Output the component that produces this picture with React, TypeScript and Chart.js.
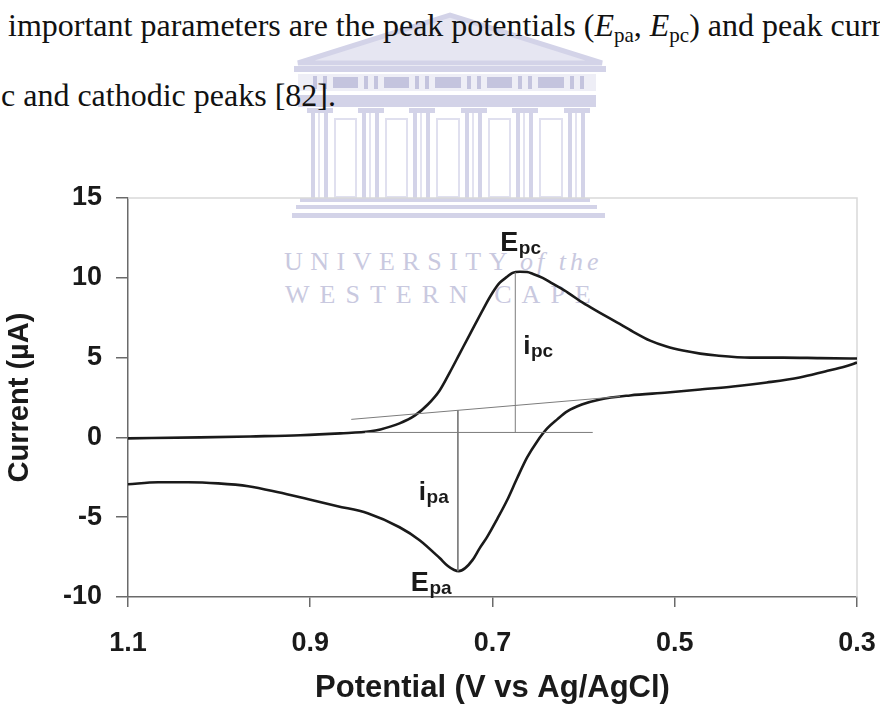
import React, { useEffect, useRef } from "react";
import { Chart, registerables } from "chart.js";

Chart.register(...registerables);

// Axis ticks
const X_TICKS = [1.1, 0.9, 0.7, 0.5, 0.3];
const Y_TICKS = [-10, -5, 0, 5, 10, 15];

// Upper branch of the voltammogram (potential in V, current in µA)
const upperPotential = [
  1.1, 1.021, 0.966, 0.911, 0.867, 0.834, 0.823, 0.802, 0.785, 0.771,
  0.758, 0.747, 0.736, 0.725, 0.71, 0.7, 0.692, 0.684, 0.678, 0.67,
  0.662, 0.656, 0.645, 0.634, 0.617, 0.601, 0.582, 0.563, 0.546, 0.527,
  0.509, 0.491, 0.472, 0.454, 0.417, 0.381, 0.341, 0.3,
];
const upperCurrent = [
  -0.06, 0.0, 0.06, 0.13, 0.25, 0.38, 0.5, 0.88, 1.38, 2.06,
  2.94, 4.06, 5.25, 6.44, 8.06, 9.06, 9.69, 10.06, 10.31, 10.38,
  10.36, 10.25, 10.0, 9.63, 9.06, 8.44, 7.81, 7.19, 6.63, 6.06,
  5.69, 5.44, 5.25, 5.13, 5.0, 5.0, 4.97, 4.94,
];

// Lower branch of the voltammogram
const lowerPotential = [
  1.1, 1.067, 1.034, 1.001, 0.968, 0.935, 0.902, 0.87, 0.837, 0.802,
  0.78, 0.758, 0.749, 0.742, 0.737, 0.73, 0.722, 0.714, 0.706, 0.695,
  0.684, 0.673, 0.662, 0.651, 0.64, 0.629, 0.618, 0.602, 0.582, 0.549,
  0.508, 0.472, 0.436, 0.399, 0.363, 0.335, 0.313, 0.3,
];
const lowerCurrent = [
  -2.94, -2.81, -2.81, -2.88, -3.06, -3.44, -3.88, -4.31, -4.75, -5.63,
  -6.44, -7.56, -8.06, -8.31, -8.38, -8.19, -7.69, -6.94, -6.25, -5.13,
  -3.94, -2.56, -1.25, -0.25, 0.56, 1.13, 1.63, 2.06, 2.38, 2.63,
  2.81, 3.0, 3.19, 3.44, 3.75, 4.13, 4.44, 4.69,
];

// Peak positions and the baselines used to read the peak currents
const E_PC = 0.675;
const I_PC_PEAK = 10.35;
const E_PA = 0.738;
const I_PA_PEAK = -8.38;
const pcBaselinePotential = [0.84, 0.59];
const pcBaselineCurrent = [0.31, 0.31];
const paBaselinePotential = [0.855, 0.56];
const paBaselineCurrent = [1.13, 2.56];
const I_PA_BASE = 1.7;
const I_PC_LABEL = 5.25;
const I_PA_LABEL = -3.94;

const SANS = '"Liberation Sans", Arial, Helvetica, sans-serif';
const SERIF = '"Liberation Serif", "Times New Roman", serif';
const INK = "#1a1a1a";
const AXIS = "#6a6a6a";

const toPoints = (xs: number[], ys: number[]) => xs.map((x, i) => ({ x, y: ys[i] }));

const framePlugin = {
  id: "frame",
  beforeDatasetsDraw(chart: any) {
    const { ctx, chartArea } = chart;
    ctx.save();
    ctx.strokeStyle = "#d9d9d9";
    ctx.lineWidth = 1.5;
    ctx.beginPath();
    ctx.moveTo(chartArea.left, chartArea.top);
    ctx.lineTo(chartArea.right, chartArea.top);
    ctx.lineTo(chartArea.right, chartArea.bottom);
    ctx.stroke();
    ctx.restore();
  },
};

const peakLabelPlugin = {
  id: "peakLabels",
  afterDatasetsDraw(chart: any) {
    const { ctx } = chart;
    const x = chart.scales.x;
    const y = chart.scales.y;
    const label = (main: string, sub: string, left: number, baseline: number, mainSize: number) => {
      ctx.font = `bold ${mainSize}px ${SANS}`;
      ctx.fillText(main, left, baseline);
      const w = ctx.measureText(main).width;
      ctx.font = `bold 19px ${SANS}`;
      ctx.fillText(sub, left + w + 0.5, baseline + 3);
    };
    ctx.save();
    ctx.fillStyle = INK;
    ctx.textBaseline = "alphabetic";
    ctx.textAlign = "left";
    const pcX = x.getPixelForValue(E_PC);
    const paX = x.getPixelForValue(E_PA);
    label("E", "pc", pcX - 15, y.getPixelForValue(I_PC_PEAK) - 21, 27);
    label("i", "pc", pcX + 8, y.getPixelForValue(I_PC_LABEL), 26);
    label("i", "pa", paX - 39, y.getPixelForValue(I_PA_LABEL), 26);
    label("E", "pa", paX - 47, y.getPixelForValue(I_PA_PEAK) + 20, 27);
    ctx.restore();
  },
};

function Watermark() {
  const lav = "#d3d3e8";
  const lavDark = "#c4c4de";
  const cols = [320, 371, 422, 474, 525, 577];
  return (
    <svg
      width={880}
      height={706}
      style={{ position: "absolute", left: 0, top: 0 }}
    >
      {/* pediment */}
      <polygon points="298,63 450,15 602,63" fill="#e6e6f2" stroke={lav} strokeWidth={5} />
      <rect x={294} y={66} width={312} height={6} fill={lav} />
      <rect x={298} y={74} width={298} height={17} fill="#eeeef6" />
      {cols.map((c, i) => (
        <g key={"f" + i}>
          <rect x={c - 7} y={76} width={4} height={13} fill={lavDark} />
          <rect x={c + 3} y={76} width={4} height={13} fill={lavDark} />
          {i < cols.length - 1 && (
            <rect x={c + 13} y={77} width={cols[i + 1] - c - 26} height={11} fill={lavDark} />
          )}
        </g>
      ))}
      <rect x={298} y={95} width={298} height={12} fill={lav} />
      {cols.map((c, i) => (
        <g key={"c" + i}>
          <rect x={c - 13} y={108} width={26} height={5} fill={lav} />
          <rect x={c - 9} y={113} width={4} height={85} fill={lav} />
          <rect x={c - 2} y={113} width={2} height={85} fill="#e2e2f0" />
          <rect x={c + 4} y={113} width={4} height={85} fill={lav} />
          {i < cols.length - 1 && (
            <rect
              x={c + 15}
              y={119}
              width={cols[i + 1] - c - 30}
              height={78}
              fill="none"
              stroke="#e0e0ef"
              strokeWidth={2}
            />
          )}
        </g>
      ))}
      <rect x={300} y={198} width={290} height={4} fill={lav} />
      <rect x={296} y={205} width={301} height={4} fill={lav} />
      <rect x={292} y={213} width={313} height={5} fill={lav} />
      <g fill="#c9c9df" fontFamily={SERIF} fontSize={26}>
        <text x={284} y={270} letterSpacing={7.5}>UNIVERSITY</text>
        <text x={520} y={270} fontStyle="italic" letterSpacing={4}>of the</text>
        <text x={285} y={303} letterSpacing={10}>WESTERN CAPE</text>
      </g>
      {/* running text of the page */}
      <g fill="#111" fontFamily={SERIF} fontSize={32}>
        <text x={8} y={36}>
          important parameters are the peak potentials (
          <tspan fontStyle="italic">E</tspan>
          <tspan fontSize={21} dy={6}>pa</tspan>
          <tspan dy={-6}>, </tspan>
          <tspan fontStyle="italic">E</tspan>
          <tspan fontSize={21} dy={6}>pc</tspan>
          <tspan dy={-6}>) and peak currents</tspan>
        </text>
        <text x={1} y={106}>c and cathodic peaks [82].</text>
      </g>
    </svg>
  );
}

export default function App() {
  const canvasRef = useRef<HTMLCanvasElement | null>(null);

  useEffect(() => {
    const canvas = canvasRef.current;
    if (!canvas) return;
    const curve = (xs: number[], ys: number[]) => ({
      data: toPoints(xs, ys),
      showLine: true,
      borderColor: INK,
      borderWidth: 2.6,
      pointRadius: 0,
      cubicInterpolationMode: "monotone" as const,
    });
    const guide = (xs: number[], ys: number[]) => ({
      data: toPoints(xs, ys),
      showLine: true,
      borderColor: "#7c7c7c",
      borderWidth: 1,
      pointRadius: 0,
      tension: 0,
    });
    const chart = new Chart(canvas, {
      type: "scatter",
      data: {
        datasets: [
          guide(paBaselinePotential, paBaselineCurrent),
          guide(pcBaselinePotential, pcBaselineCurrent),
          guide([E_PC, E_PC], [pcBaselineCurrent[0], I_PC_PEAK]),
          guide([E_PA, E_PA], [I_PA_BASE, I_PA_PEAK]),
          curve(upperPotential, upperCurrent),
          curve(lowerPotential, lowerCurrent),
        ],
      },
      options: {
        responsive: false,
        animation: false,
        devicePixelRatio: 1,
        layout: { padding: { left: 0, top: 198, right: 23, bottom: 0 } },
        plugins: {
          legend: { display: false },
          tooltip: { enabled: false },
        },
        scales: {
          x: {
            type: "linear",
            reverse: true,
            min: 0.3,
            max: 1.1,
            afterBuildTicks: (s: any) => {
              s.ticks = X_TICKS.map((v) => ({ value: v }));
            },
            afterFit: (s: any) => {
              s.height = 109;
              // end labels fit inside the layout padding already
              s.paddingLeft = 0;
              s.paddingRight = 0;
            },
            ticks: {
              callback: (v: any) => Number(v).toFixed(1),
              font: { family: SANS, size: 27, weight: "bold" },
              color: INK,
              padding: 20,
              maxRotation: 0,
              autoSkip: false,
            },
            grid: { drawOnChartArea: false, drawTicks: true, tickLength: 10, color: AXIS, lineWidth: 1.5 },
            border: { display: true, color: AXIS, width: 1.5 },
            title: {
              display: true,
              text: "Potential (V vs Ag/AgCl)",
              font: { family: SANS, size: 31, weight: "bold", lineHeight: 1 },
              color: INK,
              padding: { top: 0, bottom: 2 },
            },
          },
          y: {
            type: "linear",
            min: -10,
            max: 15,
            afterBuildTicks: (s: any) => {
              s.ticks = Y_TICKS.map((v) => ({ value: v }));
            },
            afterFit: (s: any) => {
              s.width = 128;
            },
            ticks: {
              callback: (v: any) => String(v),
              font: { family: SANS, size: 27, weight: "bold" },
              color: INK,
              padding: 14,
              autoSkip: false,
            },
            grid: { drawOnChartArea: false, drawTicks: true, tickLength: 12, color: AXIS, lineWidth: 1.5 },
            border: { display: true, color: AXIS, width: 1.5 },
            title: {
              display: true,
              text: "Current (µA)",
              font: { family: SANS, size: 29, weight: "bold", lineHeight: 1 },
              color: INK,
              padding: { top: 5, bottom: 0 },
            },
          },
        },
      },
      plugins: [framePlugin, peakLabelPlugin],
    });
    return () => chart.destroy();
  }, []);

  return (
    <div
      style={{
        position: "absolute",
        left: 0,
        top: 0,
        width: 880,
        height: 706,
        background: "#fff",
        overflow: "hidden",
      }}
    >
      <Watermark />
      <canvas
        ref={canvasRef}
        width={880}
        height={706}
        style={{ position: "absolute", left: 0, top: 0, width: 880, height: 706 }}
      />
    </div>
  );
}
